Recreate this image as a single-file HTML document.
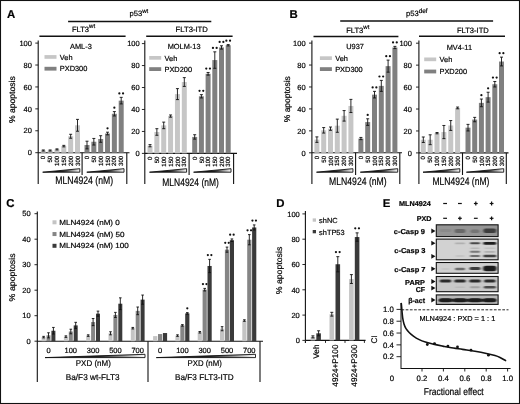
<!DOCTYPE html>
<html><head><meta charset="utf-8"><title>Figure</title>
<style>
html,body{margin:0;padding:0;background:#fff;}
body{width:520px;height:404px;overflow:hidden;}
svg{display:block;font-family:"Liberation Sans", sans-serif;filter:grayscale(1) blur(0.3px);}
text{stroke:#111;stroke-width:0.2px;paint-order:stroke;text-rendering:geometricPrecision;}
</style></head>
<body>
<svg width="520" height="404" viewBox="0 0 520 404">
<rect x="0" y="0" width="520" height="404" fill="#fff"/>
<rect x="0.5" y="0.5" width="519" height="403" fill="none" stroke="#111" stroke-width="1.1"/>
<text x="6.9" y="17.8" font-size="11.4" font-weight="bold">A</text>
<text x="289.5" y="18" font-size="11.4" font-weight="bold">B</text>
<text x="6.3" y="207.3" font-size="11.4" font-weight="bold">C</text>
<text x="276.3" y="207.1" font-size="11.4" font-weight="bold">D</text>
<text x="382.7" y="207.2" font-size="11.4" font-weight="bold">E</text>
<line x1="68.1" y1="21.5" x2="211.3" y2="21.5" stroke="#111" stroke-width="1.5"/>
<text x="129.5" y="16.3" font-size="7.6">p53<tspan font-size="6" dy="-3.6">wt</tspan></text>
<line x1="39.4" y1="36.3" x2="125.6" y2="36.3" stroke="#111" stroke-width="1.5"/>
<text x="71.9" y="32" font-size="7.6">FLT3<tspan font-size="6" dy="-3.6">wt</tspan></text>
<line x1="146.2" y1="36.3" x2="232.6" y2="36.3" stroke="#111" stroke-width="1.5"/>
<text x="175.5" y="32.3" font-size="7.6" textLength="32.4" lengthAdjust="spacingAndGlyphs">FLT3-ITD</text>
<line x1="38.2" y1="40.5" x2="38.2" y2="184" stroke="#111" stroke-width="1.1"/>
<line x1="35.3" y1="152.7" x2="38.2" y2="152.7" stroke="#111" stroke-width="0.9"/>
<text x="31.9" y="155.4" font-size="7.5" text-anchor="end">0</text>
<line x1="35.3" y1="130.78" x2="38.2" y2="130.78" stroke="#111" stroke-width="0.9"/>
<text x="31.9" y="133.48" font-size="7.5" text-anchor="end">20</text>
<line x1="35.3" y1="108.86" x2="38.2" y2="108.86" stroke="#111" stroke-width="0.9"/>
<text x="31.9" y="111.56" font-size="7.5" text-anchor="end">40</text>
<line x1="35.3" y1="86.94" x2="38.2" y2="86.94" stroke="#111" stroke-width="0.9"/>
<text x="31.9" y="89.64" font-size="7.5" text-anchor="end">60</text>
<line x1="35.3" y1="65.02" x2="38.2" y2="65.02" stroke="#111" stroke-width="0.9"/>
<text x="31.9" y="67.72" font-size="7.5" text-anchor="end">80</text>
<line x1="35.3" y1="43.1" x2="38.2" y2="43.1" stroke="#111" stroke-width="0.9"/>
<text x="31.9" y="45.8" font-size="7.5" text-anchor="end">100</text>
<line x1="38.2" y1="152.7" x2="129.5" y2="152.7" stroke="#111" stroke-width="1.1"/>
<line x1="126.8" y1="152.7" x2="126.8" y2="184" stroke="#111" stroke-width="1.1"/>
<line x1="82.1" y1="152.7" x2="82.1" y2="175" stroke="#111" stroke-width="1.1"/>
<rect x="40.8" y="150.51" width="5" height="2.19" fill="#c6c6c6" />
<line x1="43.3" y1="149.96" x2="43.3" y2="151.06" stroke="#111" stroke-width="0.9"/>
<line x1="41.8" y1="149.96" x2="44.8" y2="149.96" stroke="#111" stroke-width="0.9"/>
<line x1="41.8" y1="151.06" x2="44.8" y2="151.06" stroke="#111" stroke-width="0.9"/>
<rect x="47.64" y="150.51" width="5" height="2.19" fill="#c6c6c6" />
<line x1="50.14" y1="149.96" x2="50.14" y2="151.06" stroke="#111" stroke-width="0.9"/>
<line x1="48.64" y1="149.96" x2="51.64" y2="149.96" stroke="#111" stroke-width="0.9"/>
<line x1="48.64" y1="151.06" x2="51.64" y2="151.06" stroke="#111" stroke-width="0.9"/>
<rect x="54.48" y="149.41" width="5" height="3.29" fill="#c6c6c6" />
<line x1="56.98" y1="148.86" x2="56.98" y2="149.96" stroke="#111" stroke-width="0.9"/>
<line x1="55.48" y1="148.86" x2="58.48" y2="148.86" stroke="#111" stroke-width="0.9"/>
<line x1="55.48" y1="149.96" x2="58.48" y2="149.96" stroke="#111" stroke-width="0.9"/>
<rect x="61.32" y="146.12" width="5" height="6.58" fill="#c6c6c6" />
<line x1="63.82" y1="145.36" x2="63.82" y2="146.89" stroke="#111" stroke-width="0.9"/>
<line x1="62.32" y1="145.36" x2="65.32" y2="145.36" stroke="#111" stroke-width="0.9"/>
<line x1="62.32" y1="146.89" x2="65.32" y2="146.89" stroke="#111" stroke-width="0.9"/>
<rect x="68.16" y="136.26" width="5" height="16.44" fill="#c6c6c6" />
<line x1="70.66" y1="134.29" x2="70.66" y2="138.23" stroke="#111" stroke-width="0.9"/>
<line x1="69.16" y1="134.29" x2="72.16" y2="134.29" stroke="#111" stroke-width="0.9"/>
<line x1="69.16" y1="138.23" x2="72.16" y2="138.23" stroke="#111" stroke-width="0.9"/>
<rect x="75" y="125.3" width="5" height="27.4" fill="#c6c6c6" />
<line x1="77.5" y1="119.38" x2="77.5" y2="131.22" stroke="#111" stroke-width="0.9"/>
<line x1="76" y1="119.38" x2="79" y2="119.38" stroke="#111" stroke-width="0.9"/>
<line x1="76" y1="131.22" x2="79" y2="131.22" stroke="#111" stroke-width="0.9"/>
<rect x="84.5" y="145.03" width="5" height="7.67" fill="#808080" />
<line x1="87" y1="141.19" x2="87" y2="148.86" stroke="#111" stroke-width="0.9"/>
<line x1="85.5" y1="141.19" x2="88.5" y2="141.19" stroke="#111" stroke-width="0.9"/>
<line x1="85.5" y1="148.86" x2="88.5" y2="148.86" stroke="#111" stroke-width="0.9"/>
<rect x="91.34" y="141.74" width="5" height="10.96" fill="#808080" />
<line x1="93.84" y1="138.45" x2="93.84" y2="145.03" stroke="#111" stroke-width="0.9"/>
<line x1="92.34" y1="138.45" x2="95.34" y2="138.45" stroke="#111" stroke-width="0.9"/>
<line x1="92.34" y1="145.03" x2="95.34" y2="145.03" stroke="#111" stroke-width="0.9"/>
<rect x="98.18" y="139" width="5" height="13.7" fill="#808080" />
<line x1="100.68" y1="135.71" x2="100.68" y2="142.29" stroke="#111" stroke-width="0.9"/>
<line x1="99.18" y1="135.71" x2="102.18" y2="135.71" stroke="#111" stroke-width="0.9"/>
<line x1="99.18" y1="142.29" x2="102.18" y2="142.29" stroke="#111" stroke-width="0.9"/>
<rect x="105.02" y="133.52" width="5" height="19.18" fill="#808080" />
<line x1="107.52" y1="132.2" x2="107.52" y2="134.84" stroke="#111" stroke-width="0.9"/>
<line x1="106.02" y1="132.2" x2="109.02" y2="132.2" stroke="#111" stroke-width="0.9"/>
<line x1="106.02" y1="134.84" x2="109.02" y2="134.84" stroke="#111" stroke-width="0.9"/>
<circle cx="107.52" cy="128.3" r="1.12" fill="#111"/>
<rect x="111.86" y="113.79" width="5" height="38.91" fill="#808080" />
<line x1="114.36" y1="111.6" x2="114.36" y2="115.98" stroke="#111" stroke-width="0.9"/>
<line x1="112.86" y1="111.6" x2="115.86" y2="111.6" stroke="#111" stroke-width="0.9"/>
<line x1="112.86" y1="115.98" x2="115.86" y2="115.98" stroke="#111" stroke-width="0.9"/>
<circle cx="114.36" cy="107.7" r="1.12" fill="#111"/>
<rect x="118.7" y="100.64" width="5" height="52.06" fill="#808080" />
<line x1="121.2" y1="97.35" x2="121.2" y2="103.93" stroke="#111" stroke-width="0.9"/>
<line x1="119.7" y1="97.35" x2="122.7" y2="97.35" stroke="#111" stroke-width="0.9"/>
<line x1="119.7" y1="103.93" x2="122.7" y2="103.93" stroke="#111" stroke-width="0.9"/>
<circle cx="119.35" cy="93.45" r="1.12" fill="#111"/>
<circle cx="123.05" cy="93.45" r="1.12" fill="#111"/>
<text x="45.4" y="155.8" font-size="6.1" text-anchor="end" transform="rotate(-90 45.4 155.8)">0</text>
<text x="89.1" y="155.8" font-size="6.1" text-anchor="end" transform="rotate(-90 89.1 155.8)">0</text>
<text x="52.24" y="155.8" font-size="6.1" text-anchor="end" transform="rotate(-90 52.24 155.8)">50</text>
<text x="95.94" y="155.8" font-size="6.1" text-anchor="end" transform="rotate(-90 95.94 155.8)">50</text>
<text x="59.08" y="155.8" font-size="6.1" text-anchor="end" transform="rotate(-90 59.08 155.8)">100</text>
<text x="102.78" y="155.8" font-size="6.1" text-anchor="end" transform="rotate(-90 102.78 155.8)">100</text>
<text x="65.92" y="155.8" font-size="6.1" text-anchor="end" transform="rotate(-90 65.92 155.8)">150</text>
<text x="109.62" y="155.8" font-size="6.1" text-anchor="end" transform="rotate(-90 109.62 155.8)">150</text>
<text x="72.76" y="155.8" font-size="6.1" text-anchor="end" transform="rotate(-90 72.76 155.8)">200</text>
<text x="116.46" y="155.8" font-size="6.1" text-anchor="end" transform="rotate(-90 116.46 155.8)">200</text>
<text x="79.6" y="155.8" font-size="6.1" text-anchor="end" transform="rotate(-90 79.6 155.8)">300</text>
<text x="123.3" y="155.8" font-size="6.1" text-anchor="end" transform="rotate(-90 123.3 155.8)">300</text>
<linearGradient id="wg1" x1="0" x2="1" y1="0" y2="0"><stop offset="0" stop-color="#000"/><stop offset="0.55" stop-color="#222"/><stop offset="1" stop-color="#fff"/></linearGradient>
<path d="M42.7 172.2 L79.8 168.7 L79.8 172.2 Z" fill="url(#wg1)" stroke="#111" stroke-width="0.9" stroke-linejoin="miter"/>
<linearGradient id="wg2" x1="0" x2="1" y1="0" y2="0"><stop offset="0" stop-color="#000"/><stop offset="0.55" stop-color="#222"/><stop offset="1" stop-color="#fff"/></linearGradient>
<path d="M86.8 172.2 L124 168.7 L124 172.2 Z" fill="url(#wg2)" stroke="#111" stroke-width="0.9" stroke-linejoin="miter"/>
<text x="55.3" y="184.1" font-size="10.8" textLength="57.9" lengthAdjust="spacingAndGlyphs">MLN4924 (nM)</text>
<rect x="44.5" y="55.1" width="12" height="3.7" fill="#c6c6c6" />
<rect x="44.5" y="66.8" width="12" height="3.8" fill="#808080" />
<text x="59.8" y="59.6" font-size="7.4">Veh</text>
<text x="59.8" y="71.3" font-size="7.4">PXD300</text>
<text x="70" y="48.9" font-size="7.4">AML-3</text>
<line x1="144.8" y1="40.5" x2="144.8" y2="184" stroke="#111" stroke-width="1.1"/>
<line x1="141.9" y1="153.4" x2="144.8" y2="153.4" stroke="#111" stroke-width="0.9"/>
<text x="139.7" y="156.1" font-size="7.5" text-anchor="end">0</text>
<line x1="141.9" y1="131.44" x2="144.8" y2="131.44" stroke="#111" stroke-width="0.9"/>
<text x="139.7" y="134.14" font-size="7.5" text-anchor="end">20</text>
<line x1="141.9" y1="109.48" x2="144.8" y2="109.48" stroke="#111" stroke-width="0.9"/>
<text x="139.7" y="112.18" font-size="7.5" text-anchor="end">40</text>
<line x1="141.9" y1="87.52" x2="144.8" y2="87.52" stroke="#111" stroke-width="0.9"/>
<text x="139.7" y="90.22" font-size="7.5" text-anchor="end">60</text>
<line x1="141.9" y1="65.56" x2="144.8" y2="65.56" stroke="#111" stroke-width="0.9"/>
<text x="139.7" y="68.26" font-size="7.5" text-anchor="end">80</text>
<line x1="141.9" y1="43.6" x2="144.8" y2="43.6" stroke="#111" stroke-width="0.9"/>
<text x="139.7" y="46.3" font-size="7.5" text-anchor="end">100</text>
<line x1="144.8" y1="153.4" x2="237" y2="153.4" stroke="#111" stroke-width="1.1"/>
<line x1="233.6" y1="153.4" x2="233.6" y2="184" stroke="#111" stroke-width="1.1"/>
<line x1="189.1" y1="153.4" x2="189.1" y2="175" stroke="#111" stroke-width="1.1"/>
<rect x="147.5" y="145.71" width="5" height="7.69" fill="#c6c6c6" />
<line x1="150" y1="144.62" x2="150" y2="146.81" stroke="#111" stroke-width="0.9"/>
<line x1="148.5" y1="144.62" x2="151.5" y2="144.62" stroke="#111" stroke-width="0.9"/>
<line x1="148.5" y1="146.81" x2="151.5" y2="146.81" stroke="#111" stroke-width="0.9"/>
<rect x="154.36" y="131.99" width="5" height="21.41" fill="#c6c6c6" />
<line x1="156.86" y1="128.69" x2="156.86" y2="135.28" stroke="#111" stroke-width="0.9"/>
<line x1="155.36" y1="128.69" x2="158.36" y2="128.69" stroke="#111" stroke-width="0.9"/>
<line x1="155.36" y1="135.28" x2="158.36" y2="135.28" stroke="#111" stroke-width="0.9"/>
<rect x="161.22" y="125.4" width="5" height="28" fill="#c6c6c6" />
<line x1="163.72" y1="122.11" x2="163.72" y2="128.7" stroke="#111" stroke-width="0.9"/>
<line x1="162.22" y1="122.11" x2="165.22" y2="122.11" stroke="#111" stroke-width="0.9"/>
<line x1="162.22" y1="128.7" x2="165.22" y2="128.7" stroke="#111" stroke-width="0.9"/>
<rect x="168.08" y="116.07" width="5" height="37.33" fill="#c6c6c6" />
<line x1="170.58" y1="114.97" x2="170.58" y2="117.17" stroke="#111" stroke-width="0.9"/>
<line x1="169.08" y1="114.97" x2="172.08" y2="114.97" stroke="#111" stroke-width="0.9"/>
<line x1="169.08" y1="117.17" x2="172.08" y2="117.17" stroke="#111" stroke-width="0.9"/>
<rect x="174.94" y="94.11" width="5" height="59.29" fill="#c6c6c6" />
<line x1="177.44" y1="88.62" x2="177.44" y2="99.6" stroke="#111" stroke-width="0.9"/>
<line x1="175.94" y1="88.62" x2="178.94" y2="88.62" stroke="#111" stroke-width="0.9"/>
<line x1="175.94" y1="99.6" x2="178.94" y2="99.6" stroke="#111" stroke-width="0.9"/>
<rect x="181.8" y="82.03" width="5" height="71.37" fill="#c6c6c6" />
<line x1="184.3" y1="77.64" x2="184.3" y2="86.42" stroke="#111" stroke-width="0.9"/>
<line x1="182.8" y1="77.64" x2="185.8" y2="77.64" stroke="#111" stroke-width="0.9"/>
<line x1="182.8" y1="86.42" x2="185.8" y2="86.42" stroke="#111" stroke-width="0.9"/>
<rect x="192.2" y="136.93" width="5" height="16.47" fill="#808080" />
<line x1="194.7" y1="134.73" x2="194.7" y2="139.13" stroke="#111" stroke-width="0.9"/>
<line x1="193.2" y1="134.73" x2="196.2" y2="134.73" stroke="#111" stroke-width="0.9"/>
<line x1="193.2" y1="139.13" x2="196.2" y2="139.13" stroke="#111" stroke-width="0.9"/>
<rect x="198.9" y="96.3" width="5" height="57.1" fill="#808080" />
<line x1="201.4" y1="94.66" x2="201.4" y2="97.95" stroke="#111" stroke-width="0.9"/>
<line x1="199.9" y1="94.66" x2="202.9" y2="94.66" stroke="#111" stroke-width="0.9"/>
<line x1="199.9" y1="97.95" x2="202.9" y2="97.95" stroke="#111" stroke-width="0.9"/>
<circle cx="199.55" cy="90.76" r="1.12" fill="#111"/>
<circle cx="203.25" cy="90.76" r="1.12" fill="#111"/>
<rect x="205.6" y="73.8" width="5" height="79.61" fill="#808080" />
<line x1="208.1" y1="72.48" x2="208.1" y2="75.11" stroke="#111" stroke-width="0.9"/>
<line x1="206.6" y1="72.48" x2="209.6" y2="72.48" stroke="#111" stroke-width="0.9"/>
<line x1="206.6" y1="75.11" x2="209.6" y2="75.11" stroke="#111" stroke-width="0.9"/>
<circle cx="206.25" cy="68.58" r="1.12" fill="#111"/>
<circle cx="209.95" cy="68.58" r="1.12" fill="#111"/>
<rect x="212.3" y="60.07" width="5" height="93.33" fill="#808080" />
<line x1="214.8" y1="51.83" x2="214.8" y2="68.3" stroke="#111" stroke-width="0.9"/>
<line x1="213.3" y1="51.83" x2="216.3" y2="51.83" stroke="#111" stroke-width="0.9"/>
<line x1="213.3" y1="68.3" x2="216.3" y2="68.3" stroke="#111" stroke-width="0.9"/>
<circle cx="212.95" cy="47.93" r="1.12" fill="#111"/>
<circle cx="216.65" cy="47.93" r="1.12" fill="#111"/>
<rect x="219" y="47.44" width="5" height="105.96" fill="#808080" />
<line x1="221.5" y1="45.8" x2="221.5" y2="49.09" stroke="#111" stroke-width="0.9"/>
<line x1="220" y1="45.8" x2="223" y2="45.8" stroke="#111" stroke-width="0.9"/>
<line x1="220" y1="49.09" x2="223" y2="49.09" stroke="#111" stroke-width="0.9"/>
<circle cx="219.65" cy="41.9" r="1.12" fill="#111"/>
<circle cx="223.35" cy="41.9" r="1.12" fill="#111"/>
<rect x="225.7" y="45.25" width="5" height="108.15" fill="#808080" />
<line x1="228.2" y1="44.59" x2="228.2" y2="45.91" stroke="#111" stroke-width="0.9"/>
<line x1="226.7" y1="44.59" x2="229.7" y2="44.59" stroke="#111" stroke-width="0.9"/>
<line x1="226.7" y1="45.91" x2="229.7" y2="45.91" stroke="#111" stroke-width="0.9"/>
<circle cx="226.35" cy="40.69" r="1.12" fill="#111"/>
<circle cx="230.05" cy="40.69" r="1.12" fill="#111"/>
<text x="152.1" y="156.5" font-size="6.1" text-anchor="end" transform="rotate(-90 152.1 156.5)">0</text>
<text x="196.8" y="156.5" font-size="6.1" text-anchor="end" transform="rotate(-90 196.8 156.5)">0</text>
<text x="158.96" y="156.5" font-size="6.1" text-anchor="end" transform="rotate(-90 158.96 156.5)">50</text>
<text x="203.5" y="156.5" font-size="6.1" text-anchor="end" transform="rotate(-90 203.5 156.5)">50</text>
<text x="165.82" y="156.5" font-size="6.1" text-anchor="end" transform="rotate(-90 165.82 156.5)">100</text>
<text x="210.2" y="156.5" font-size="6.1" text-anchor="end" transform="rotate(-90 210.2 156.5)">100</text>
<text x="172.68" y="156.5" font-size="6.1" text-anchor="end" transform="rotate(-90 172.68 156.5)">150</text>
<text x="216.9" y="156.5" font-size="6.1" text-anchor="end" transform="rotate(-90 216.9 156.5)">150</text>
<text x="179.54" y="156.5" font-size="6.1" text-anchor="end" transform="rotate(-90 179.54 156.5)">200</text>
<text x="223.6" y="156.5" font-size="6.1" text-anchor="end" transform="rotate(-90 223.6 156.5)">200</text>
<text x="186.4" y="156.5" font-size="6.1" text-anchor="end" transform="rotate(-90 186.4 156.5)">300</text>
<text x="230.3" y="156.5" font-size="6.1" text-anchor="end" transform="rotate(-90 230.3 156.5)">300</text>
<linearGradient id="wg3" x1="0" x2="1" y1="0" y2="0"><stop offset="0" stop-color="#000"/><stop offset="0.55" stop-color="#222"/><stop offset="1" stop-color="#fff"/></linearGradient>
<path d="M149.5 172.2 L186.6 168.7 L186.6 172.2 Z" fill="url(#wg3)" stroke="#111" stroke-width="0.9" stroke-linejoin="miter"/>
<linearGradient id="wg4" x1="0" x2="1" y1="0" y2="0"><stop offset="0" stop-color="#000"/><stop offset="0.55" stop-color="#222"/><stop offset="1" stop-color="#fff"/></linearGradient>
<path d="M193.6 172.2 L231 168.7 L231 172.2 Z" fill="url(#wg4)" stroke="#111" stroke-width="0.9" stroke-linejoin="miter"/>
<text x="162.3" y="186.1" font-size="10.8" textLength="56.5" lengthAdjust="spacingAndGlyphs">MLN4924 (nM)</text>
<rect x="149.2" y="56" width="12" height="3.7" fill="#c6c6c6" />
<rect x="149.2" y="67.2" width="12" height="3.8" fill="#808080" />
<text x="164.5" y="60.5" font-size="7.4">Veh</text>
<text x="164.5" y="71.7" font-size="7.4">PXD200</text>
<text x="167.7" y="48.9" font-size="7.4">MOLM-13</text>
<line x1="340.2" y1="21" x2="493.1" y2="21" stroke="#111" stroke-width="1.5"/>
<text x="406" y="16.3" font-size="7.6">p53<tspan font-size="6.4" dy="-3.6">def</tspan></text>
<line x1="313.5" y1="36.6" x2="398.4" y2="36.6" stroke="#111" stroke-width="1.5"/>
<text x="346.2" y="32.5" font-size="7.6">FLT3<tspan font-size="6" dy="-3.6">wt</tspan></text>
<line x1="419" y1="36.3" x2="505" y2="36.3" stroke="#111" stroke-width="1.5"/>
<text x="456.9" y="32.7" font-size="7.6" textLength="31.9" lengthAdjust="spacingAndGlyphs">FLT3-ITD</text>
<line x1="311.9" y1="40.5" x2="311.9" y2="184" stroke="#111" stroke-width="1.1"/>
<line x1="309" y1="152.8" x2="311.9" y2="152.8" stroke="#111" stroke-width="0.9"/>
<text x="305.6" y="155.5" font-size="7.5" text-anchor="end">0</text>
<line x1="309" y1="130.86" x2="311.9" y2="130.86" stroke="#111" stroke-width="0.9"/>
<text x="305.6" y="133.56" font-size="7.5" text-anchor="end">20</text>
<line x1="309" y1="108.92" x2="311.9" y2="108.92" stroke="#111" stroke-width="0.9"/>
<text x="305.6" y="111.62" font-size="7.5" text-anchor="end">40</text>
<line x1="309" y1="86.98" x2="311.9" y2="86.98" stroke="#111" stroke-width="0.9"/>
<text x="305.6" y="89.68" font-size="7.5" text-anchor="end">60</text>
<line x1="309" y1="65.04" x2="311.9" y2="65.04" stroke="#111" stroke-width="0.9"/>
<text x="305.6" y="67.74" font-size="7.5" text-anchor="end">80</text>
<line x1="309" y1="43.1" x2="311.9" y2="43.1" stroke="#111" stroke-width="0.9"/>
<text x="305.6" y="45.8" font-size="7.5" text-anchor="end">100</text>
<line x1="311.9" y1="152.8" x2="402" y2="152.8" stroke="#111" stroke-width="1.1"/>
<line x1="399.8" y1="152.8" x2="399.8" y2="184" stroke="#111" stroke-width="1.1"/>
<line x1="355.6" y1="152.8" x2="355.6" y2="175" stroke="#111" stroke-width="1.1"/>
<rect x="314.4" y="139.64" width="5" height="13.16" fill="#c6c6c6" />
<line x1="316.9" y1="136.89" x2="316.9" y2="142.38" stroke="#111" stroke-width="0.9"/>
<line x1="315.4" y1="136.89" x2="318.4" y2="136.89" stroke="#111" stroke-width="0.9"/>
<line x1="315.4" y1="142.38" x2="318.4" y2="142.38" stroke="#111" stroke-width="0.9"/>
<rect x="321.2" y="130.31" width="5" height="22.49" fill="#c6c6c6" />
<line x1="323.7" y1="127.57" x2="323.7" y2="133.05" stroke="#111" stroke-width="0.9"/>
<line x1="322.2" y1="127.57" x2="325.2" y2="127.57" stroke="#111" stroke-width="0.9"/>
<line x1="322.2" y1="133.05" x2="325.2" y2="133.05" stroke="#111" stroke-width="0.9"/>
<rect x="328" y="128.67" width="5" height="24.13" fill="#c6c6c6" />
<line x1="330.5" y1="127.02" x2="330.5" y2="130.31" stroke="#111" stroke-width="0.9"/>
<line x1="329" y1="127.02" x2="332" y2="127.02" stroke="#111" stroke-width="0.9"/>
<line x1="329" y1="130.31" x2="332" y2="130.31" stroke="#111" stroke-width="0.9"/>
<rect x="334.8" y="125.7" width="5" height="27.1" fill="#c6c6c6" />
<line x1="337.3" y1="119.12" x2="337.3" y2="132.29" stroke="#111" stroke-width="0.9"/>
<line x1="335.8" y1="119.12" x2="338.8" y2="119.12" stroke="#111" stroke-width="0.9"/>
<line x1="335.8" y1="132.29" x2="338.8" y2="132.29" stroke="#111" stroke-width="0.9"/>
<rect x="341.6" y="115.83" width="5" height="36.97" fill="#c6c6c6" />
<line x1="344.1" y1="110.57" x2="344.1" y2="121.1" stroke="#111" stroke-width="0.9"/>
<line x1="342.6" y1="110.57" x2="345.6" y2="110.57" stroke="#111" stroke-width="0.9"/>
<line x1="342.6" y1="121.1" x2="345.6" y2="121.1" stroke="#111" stroke-width="0.9"/>
<rect x="348.4" y="105.96" width="5" height="46.84" fill="#c6c6c6" />
<line x1="350.9" y1="99.38" x2="350.9" y2="112.54" stroke="#111" stroke-width="0.9"/>
<line x1="349.4" y1="99.38" x2="352.4" y2="99.38" stroke="#111" stroke-width="0.9"/>
<line x1="349.4" y1="112.54" x2="352.4" y2="112.54" stroke="#111" stroke-width="0.9"/>
<rect x="358.4" y="138.54" width="5" height="14.26" fill="#808080" />
<line x1="360.9" y1="137.44" x2="360.9" y2="139.64" stroke="#111" stroke-width="0.9"/>
<line x1="359.4" y1="137.44" x2="362.4" y2="137.44" stroke="#111" stroke-width="0.9"/>
<line x1="359.4" y1="139.64" x2="362.4" y2="139.64" stroke="#111" stroke-width="0.9"/>
<rect x="365.2" y="122.08" width="5" height="30.72" fill="#808080" />
<line x1="367.7" y1="118.79" x2="367.7" y2="125.38" stroke="#111" stroke-width="0.9"/>
<line x1="366.2" y1="118.79" x2="369.2" y2="118.79" stroke="#111" stroke-width="0.9"/>
<line x1="366.2" y1="125.38" x2="369.2" y2="125.38" stroke="#111" stroke-width="0.9"/>
<circle cx="367.7" cy="114.89" r="1.12" fill="#111"/>
<rect x="372" y="94.66" width="5" height="58.14" fill="#808080" />
<line x1="374.5" y1="91.37" x2="374.5" y2="97.95" stroke="#111" stroke-width="0.9"/>
<line x1="373" y1="91.37" x2="376" y2="91.37" stroke="#111" stroke-width="0.9"/>
<line x1="373" y1="97.95" x2="376" y2="97.95" stroke="#111" stroke-width="0.9"/>
<circle cx="372.65" cy="87.47" r="1.12" fill="#111"/>
<circle cx="376.35" cy="87.47" r="1.12" fill="#111"/>
<rect x="378.8" y="85.88" width="5" height="66.92" fill="#808080" />
<line x1="381.3" y1="80.4" x2="381.3" y2="91.37" stroke="#111" stroke-width="0.9"/>
<line x1="379.8" y1="80.4" x2="382.8" y2="80.4" stroke="#111" stroke-width="0.9"/>
<line x1="379.8" y1="91.37" x2="382.8" y2="91.37" stroke="#111" stroke-width="0.9"/>
<circle cx="379.45" cy="76.5" r="1.12" fill="#111"/>
<circle cx="383.15" cy="76.5" r="1.12" fill="#111"/>
<rect x="385.6" y="66.14" width="5" height="86.66" fill="#808080" />
<line x1="388.1" y1="60.1" x2="388.1" y2="72.17" stroke="#111" stroke-width="0.9"/>
<line x1="386.6" y1="60.1" x2="389.6" y2="60.1" stroke="#111" stroke-width="0.9"/>
<line x1="386.6" y1="72.17" x2="389.6" y2="72.17" stroke="#111" stroke-width="0.9"/>
<circle cx="386.25" cy="56.2" r="1.12" fill="#111"/>
<circle cx="389.95" cy="56.2" r="1.12" fill="#111"/>
<rect x="392.4" y="47.49" width="5" height="105.31" fill="#808080" />
<line x1="394.9" y1="46.39" x2="394.9" y2="48.59" stroke="#111" stroke-width="0.9"/>
<line x1="393.4" y1="46.39" x2="396.4" y2="46.39" stroke="#111" stroke-width="0.9"/>
<line x1="393.4" y1="48.59" x2="396.4" y2="48.59" stroke="#111" stroke-width="0.9"/>
<circle cx="393.05" cy="42.49" r="1.12" fill="#111"/>
<circle cx="396.75" cy="42.49" r="1.12" fill="#111"/>
<text x="319" y="155.9" font-size="6.1" text-anchor="end" transform="rotate(-90 319 155.9)">0</text>
<text x="363" y="155.9" font-size="6.1" text-anchor="end" transform="rotate(-90 363 155.9)">0</text>
<text x="325.8" y="155.9" font-size="6.1" text-anchor="end" transform="rotate(-90 325.8 155.9)">50</text>
<text x="369.8" y="155.9" font-size="6.1" text-anchor="end" transform="rotate(-90 369.8 155.9)">50</text>
<text x="332.6" y="155.9" font-size="6.1" text-anchor="end" transform="rotate(-90 332.6 155.9)">100</text>
<text x="376.6" y="155.9" font-size="6.1" text-anchor="end" transform="rotate(-90 376.6 155.9)">100</text>
<text x="339.4" y="155.9" font-size="6.1" text-anchor="end" transform="rotate(-90 339.4 155.9)">150</text>
<text x="383.4" y="155.9" font-size="6.1" text-anchor="end" transform="rotate(-90 383.4 155.9)">150</text>
<text x="346.2" y="155.9" font-size="6.1" text-anchor="end" transform="rotate(-90 346.2 155.9)">200</text>
<text x="390.2" y="155.9" font-size="6.1" text-anchor="end" transform="rotate(-90 390.2 155.9)">200</text>
<text x="353" y="155.9" font-size="6.1" text-anchor="end" transform="rotate(-90 353 155.9)">300</text>
<text x="397" y="155.9" font-size="6.1" text-anchor="end" transform="rotate(-90 397 155.9)">300</text>
<linearGradient id="wg5" x1="0" x2="1" y1="0" y2="0"><stop offset="0" stop-color="#000"/><stop offset="0.55" stop-color="#222"/><stop offset="1" stop-color="#fff"/></linearGradient>
<path d="M316.5 172.2 L352.9 168.7 L352.9 172.2 Z" fill="url(#wg5)" stroke="#111" stroke-width="0.9" stroke-linejoin="miter"/>
<linearGradient id="wg6" x1="0" x2="1" y1="0" y2="0"><stop offset="0" stop-color="#000"/><stop offset="0.55" stop-color="#222"/><stop offset="1" stop-color="#fff"/></linearGradient>
<path d="M360.3 172.2 L397.7 168.7 L397.7 172.2 Z" fill="url(#wg6)" stroke="#111" stroke-width="0.9" stroke-linejoin="miter"/>
<text x="329" y="185.3" font-size="10.8" textLength="57.7" lengthAdjust="spacingAndGlyphs">MLN4924 (nM)</text>
<rect x="319.9" y="56.3" width="12" height="3.7" fill="#c6c6c6" />
<rect x="319.9" y="67.2" width="12" height="3.8" fill="#808080" />
<text x="335.2" y="60.8" font-size="7.4">Veh</text>
<text x="335.2" y="71.7" font-size="7.4">PXD300</text>
<text x="346.2" y="48.8" font-size="7.4">U937</text>
<line x1="418.9" y1="40.5" x2="418.9" y2="184" stroke="#111" stroke-width="1.1"/>
<line x1="416" y1="152.9" x2="418.9" y2="152.9" stroke="#111" stroke-width="0.9"/>
<text x="411.9" y="155.6" font-size="7.5" text-anchor="end">0</text>
<line x1="416" y1="130.96" x2="418.9" y2="130.96" stroke="#111" stroke-width="0.9"/>
<text x="411.9" y="133.66" font-size="7.5" text-anchor="end">20</text>
<line x1="416" y1="109.02" x2="418.9" y2="109.02" stroke="#111" stroke-width="0.9"/>
<text x="411.9" y="111.72" font-size="7.5" text-anchor="end">40</text>
<line x1="416" y1="87.08" x2="418.9" y2="87.08" stroke="#111" stroke-width="0.9"/>
<text x="411.9" y="89.78" font-size="7.5" text-anchor="end">60</text>
<line x1="416" y1="65.14" x2="418.9" y2="65.14" stroke="#111" stroke-width="0.9"/>
<text x="411.9" y="67.84" font-size="7.5" text-anchor="end">80</text>
<line x1="416" y1="43.2" x2="418.9" y2="43.2" stroke="#111" stroke-width="0.9"/>
<text x="411.9" y="45.9" font-size="7.5" text-anchor="end">100</text>
<line x1="418.9" y1="152.9" x2="508.5" y2="152.9" stroke="#111" stroke-width="1.1"/>
<line x1="506.3" y1="152.9" x2="506.3" y2="184" stroke="#111" stroke-width="1.1"/>
<line x1="462.5" y1="152.9" x2="462.5" y2="175" stroke="#111" stroke-width="1.1"/>
<rect x="420.8" y="139.74" width="5" height="13.16" fill="#c6c6c6" />
<line x1="423.3" y1="136.99" x2="423.3" y2="142.48" stroke="#111" stroke-width="0.9"/>
<line x1="421.8" y1="136.99" x2="424.8" y2="136.99" stroke="#111" stroke-width="0.9"/>
<line x1="421.8" y1="142.48" x2="424.8" y2="142.48" stroke="#111" stroke-width="0.9"/>
<rect x="427.66" y="139.74" width="5" height="13.16" fill="#c6c6c6" />
<line x1="430.16" y1="134.8" x2="430.16" y2="144.67" stroke="#111" stroke-width="0.9"/>
<line x1="428.66" y1="134.8" x2="431.66" y2="134.8" stroke="#111" stroke-width="0.9"/>
<line x1="428.66" y1="144.67" x2="431.66" y2="144.67" stroke="#111" stroke-width="0.9"/>
<rect x="434.52" y="133.15" width="5" height="19.75" fill="#c6c6c6" />
<line x1="437.02" y1="132.5" x2="437.02" y2="133.81" stroke="#111" stroke-width="0.9"/>
<line x1="435.52" y1="132.5" x2="438.52" y2="132.5" stroke="#111" stroke-width="0.9"/>
<line x1="435.52" y1="133.81" x2="438.52" y2="133.81" stroke="#111" stroke-width="0.9"/>
<rect x="441.38" y="132.06" width="5" height="20.84" fill="#c6c6c6" />
<line x1="443.88" y1="125.48" x2="443.88" y2="138.64" stroke="#111" stroke-width="0.9"/>
<line x1="442.38" y1="125.48" x2="445.38" y2="125.48" stroke="#111" stroke-width="0.9"/>
<line x1="442.38" y1="138.64" x2="445.38" y2="138.64" stroke="#111" stroke-width="0.9"/>
<rect x="448.24" y="125.48" width="5" height="27.42" fill="#c6c6c6" />
<line x1="450.74" y1="120.54" x2="450.74" y2="130.41" stroke="#111" stroke-width="0.9"/>
<line x1="449.24" y1="120.54" x2="452.24" y2="120.54" stroke="#111" stroke-width="0.9"/>
<line x1="449.24" y1="130.41" x2="452.24" y2="130.41" stroke="#111" stroke-width="0.9"/>
<rect x="455.1" y="107.92" width="5" height="44.98" fill="#c6c6c6" />
<line x1="457.6" y1="107.05" x2="457.6" y2="108.8" stroke="#111" stroke-width="0.9"/>
<line x1="456.1" y1="107.05" x2="459.1" y2="107.05" stroke="#111" stroke-width="0.9"/>
<line x1="456.1" y1="108.8" x2="459.1" y2="108.8" stroke="#111" stroke-width="0.9"/>
<rect x="465.5" y="127.67" width="5" height="25.23" fill="#808080" />
<line x1="468" y1="124.38" x2="468" y2="130.96" stroke="#111" stroke-width="0.9"/>
<line x1="466.5" y1="124.38" x2="469.5" y2="124.38" stroke="#111" stroke-width="0.9"/>
<line x1="466.5" y1="130.96" x2="469.5" y2="130.96" stroke="#111" stroke-width="0.9"/>
<rect x="472.2" y="119.55" width="5" height="33.35" fill="#808080" />
<line x1="474.7" y1="117.36" x2="474.7" y2="121.75" stroke="#111" stroke-width="0.9"/>
<line x1="473.2" y1="117.36" x2="476.2" y2="117.36" stroke="#111" stroke-width="0.9"/>
<line x1="473.2" y1="121.75" x2="476.2" y2="121.75" stroke="#111" stroke-width="0.9"/>
<rect x="478.9" y="102.88" width="5" height="50.02" fill="#808080" />
<line x1="481.4" y1="99.04" x2="481.4" y2="106.72" stroke="#111" stroke-width="0.9"/>
<line x1="479.9" y1="99.04" x2="482.9" y2="99.04" stroke="#111" stroke-width="0.9"/>
<line x1="479.9" y1="106.72" x2="482.9" y2="106.72" stroke="#111" stroke-width="0.9"/>
<circle cx="481.4" cy="95.14" r="1.12" fill="#111"/>
<rect x="485.6" y="97.17" width="5" height="55.73" fill="#808080" />
<line x1="488.1" y1="92.24" x2="488.1" y2="102.11" stroke="#111" stroke-width="0.9"/>
<line x1="486.6" y1="92.24" x2="489.6" y2="92.24" stroke="#111" stroke-width="0.9"/>
<line x1="486.6" y1="102.11" x2="489.6" y2="102.11" stroke="#111" stroke-width="0.9"/>
<circle cx="488.1" cy="88.34" r="1.12" fill="#111"/>
<rect x="492.3" y="84.23" width="5" height="68.67" fill="#808080" />
<line x1="494.8" y1="81.49" x2="494.8" y2="86.97" stroke="#111" stroke-width="0.9"/>
<line x1="493.3" y1="81.49" x2="496.3" y2="81.49" stroke="#111" stroke-width="0.9"/>
<line x1="493.3" y1="86.97" x2="496.3" y2="86.97" stroke="#111" stroke-width="0.9"/>
<circle cx="492.95" cy="77.59" r="1.12" fill="#111"/>
<circle cx="496.65" cy="77.59" r="1.12" fill="#111"/>
<rect x="499" y="61.52" width="5" height="91.38" fill="#808080" />
<line x1="501.5" y1="57.13" x2="501.5" y2="65.91" stroke="#111" stroke-width="0.9"/>
<line x1="500" y1="57.13" x2="503" y2="57.13" stroke="#111" stroke-width="0.9"/>
<line x1="500" y1="65.91" x2="503" y2="65.91" stroke="#111" stroke-width="0.9"/>
<circle cx="499.65" cy="53.23" r="1.12" fill="#111"/>
<circle cx="503.35" cy="53.23" r="1.12" fill="#111"/>
<text x="425.4" y="156" font-size="6.1" text-anchor="end" transform="rotate(-90 425.4 156)">0</text>
<text x="470.1" y="156" font-size="6.1" text-anchor="end" transform="rotate(-90 470.1 156)">0</text>
<text x="432.26" y="156" font-size="6.1" text-anchor="end" transform="rotate(-90 432.26 156)">50</text>
<text x="476.8" y="156" font-size="6.1" text-anchor="end" transform="rotate(-90 476.8 156)">50</text>
<text x="439.12" y="156" font-size="6.1" text-anchor="end" transform="rotate(-90 439.12 156)">100</text>
<text x="483.5" y="156" font-size="6.1" text-anchor="end" transform="rotate(-90 483.5 156)">100</text>
<text x="445.98" y="156" font-size="6.1" text-anchor="end" transform="rotate(-90 445.98 156)">150</text>
<text x="490.2" y="156" font-size="6.1" text-anchor="end" transform="rotate(-90 490.2 156)">150</text>
<text x="452.84" y="156" font-size="6.1" text-anchor="end" transform="rotate(-90 452.84 156)">200</text>
<text x="496.9" y="156" font-size="6.1" text-anchor="end" transform="rotate(-90 496.9 156)">200</text>
<text x="459.7" y="156" font-size="6.1" text-anchor="end" transform="rotate(-90 459.7 156)">300</text>
<text x="503.6" y="156" font-size="6.1" text-anchor="end" transform="rotate(-90 503.6 156)">300</text>
<linearGradient id="wg7" x1="0" x2="1" y1="0" y2="0"><stop offset="0" stop-color="#000"/><stop offset="0.55" stop-color="#222"/><stop offset="1" stop-color="#fff"/></linearGradient>
<path d="M423 172.2 L459.8 168.7 L459.8 172.2 Z" fill="url(#wg7)" stroke="#111" stroke-width="0.9" stroke-linejoin="miter"/>
<linearGradient id="wg8" x1="0" x2="1" y1="0" y2="0"><stop offset="0" stop-color="#000"/><stop offset="0.55" stop-color="#222"/><stop offset="1" stop-color="#fff"/></linearGradient>
<path d="M466.4 172.2 L503.7 168.7 L503.7 172.2 Z" fill="url(#wg8)" stroke="#111" stroke-width="0.9" stroke-linejoin="miter"/>
<text x="432.4" y="185.3" font-size="10.8" textLength="57" lengthAdjust="spacingAndGlyphs">MLN4924 (nM)</text>
<rect x="424.2" y="57.5" width="12" height="3.7" fill="#c6c6c6" />
<rect x="424.2" y="69.6" width="12" height="3.8" fill="#808080" />
<text x="439.5" y="62" font-size="7.4">Veh</text>
<text x="439.5" y="74.1" font-size="7.4">PXD200</text>
<text x="446.7" y="49.5" font-size="7.4">MV4-11</text>
<text x="15.3" y="99.6" font-size="8.5" text-anchor="middle" textLength="46.7" lengthAdjust="spacingAndGlyphs" transform="rotate(-90 15.3 99.6)">% apoptosis</text>
<text x="290.4" y="99.2" font-size="8.5" text-anchor="middle" textLength="46" lengthAdjust="spacingAndGlyphs" transform="rotate(-90 290.4 99.2)">% apoptosis</text>
<line x1="37.3" y1="211.5" x2="37.3" y2="382" stroke="#111" stroke-width="1.1"/>
<line x1="34.5" y1="341.2" x2="37.3" y2="341.2" stroke="#111" stroke-width="0.9"/>
<text x="30.6" y="343.9" font-size="7.5" text-anchor="end">0</text>
<line x1="34.5" y1="315.7" x2="37.3" y2="315.7" stroke="#111" stroke-width="0.9"/>
<text x="30.6" y="318.4" font-size="7.5" text-anchor="end">10</text>
<line x1="34.5" y1="290.2" x2="37.3" y2="290.2" stroke="#111" stroke-width="0.9"/>
<text x="30.6" y="292.9" font-size="7.5" text-anchor="end">20</text>
<line x1="34.5" y1="264.7" x2="37.3" y2="264.7" stroke="#111" stroke-width="0.9"/>
<text x="30.6" y="267.4" font-size="7.5" text-anchor="end">30</text>
<line x1="34.5" y1="239.2" x2="37.3" y2="239.2" stroke="#111" stroke-width="0.9"/>
<text x="30.6" y="241.9" font-size="7.5" text-anchor="end">40</text>
<line x1="34.5" y1="213.7" x2="37.3" y2="213.7" stroke="#111" stroke-width="0.9"/>
<text x="30.6" y="216.4" font-size="7.5" text-anchor="end">50</text>
<line x1="37.3" y1="341.2" x2="263" y2="341.2" stroke="#111" stroke-width="1.1"/>
<line x1="148" y1="341.2" x2="148" y2="382" stroke="#111" stroke-width="1.1"/>
<line x1="260" y1="341.2" x2="260" y2="382" stroke="#111" stroke-width="1.1"/>
<rect x="41.6" y="337.12" width="4" height="4.08" fill="#c4c4c4" />
<line x1="43.6" y1="336.36" x2="43.6" y2="337.88" stroke="#111" stroke-width="0.9"/>
<line x1="42.3" y1="336.36" x2="44.9" y2="336.36" stroke="#111" stroke-width="0.9"/>
<line x1="42.3" y1="337.88" x2="44.9" y2="337.88" stroke="#111" stroke-width="0.9"/>
<rect x="46.5" y="335.33" width="4" height="5.87" fill="#858585" />
<line x1="48.5" y1="332.78" x2="48.5" y2="337.88" stroke="#111" stroke-width="0.9"/>
<line x1="47.2" y1="332.78" x2="49.8" y2="332.78" stroke="#111" stroke-width="0.9"/>
<line x1="47.2" y1="337.88" x2="49.8" y2="337.88" stroke="#111" stroke-width="0.9"/>
<rect x="51.4" y="330.75" width="4" height="10.45" fill="#3a3a3a" />
<line x1="53.4" y1="327.43" x2="53.4" y2="334.06" stroke="#111" stroke-width="0.9"/>
<line x1="52.1" y1="327.43" x2="54.7" y2="327.43" stroke="#111" stroke-width="0.9"/>
<line x1="52.1" y1="334.06" x2="54.7" y2="334.06" stroke="#111" stroke-width="0.9"/>
<text x="48.5" y="352.6" font-size="7.5" text-anchor="middle">0</text>
<rect x="63.9" y="336.61" width="4" height="4.59" fill="#c4c4c4" />
<line x1="65.9" y1="335.85" x2="65.9" y2="337.38" stroke="#111" stroke-width="0.9"/>
<line x1="64.6" y1="335.85" x2="67.2" y2="335.85" stroke="#111" stroke-width="0.9"/>
<line x1="64.6" y1="337.38" x2="67.2" y2="337.38" stroke="#111" stroke-width="0.9"/>
<rect x="68.8" y="331.51" width="4" height="9.69" fill="#858585" />
<line x1="70.8" y1="329.21" x2="70.8" y2="333.81" stroke="#111" stroke-width="0.9"/>
<line x1="69.5" y1="329.21" x2="72.1" y2="329.21" stroke="#111" stroke-width="0.9"/>
<line x1="69.5" y1="333.81" x2="72.1" y2="333.81" stroke="#111" stroke-width="0.9"/>
<rect x="73.7" y="325.39" width="4" height="15.81" fill="#3a3a3a" />
<line x1="75.7" y1="322.33" x2="75.7" y2="328.45" stroke="#111" stroke-width="0.9"/>
<line x1="74.4" y1="322.33" x2="77" y2="322.33" stroke="#111" stroke-width="0.9"/>
<line x1="74.4" y1="328.45" x2="77" y2="328.45" stroke="#111" stroke-width="0.9"/>
<text x="70.8" y="352.6" font-size="7.5" text-anchor="middle">100</text>
<rect x="86.2" y="335.59" width="4" height="5.61" fill="#c4c4c4" />
<line x1="88.2" y1="334.82" x2="88.2" y2="336.35" stroke="#111" stroke-width="0.9"/>
<line x1="86.9" y1="334.82" x2="89.5" y2="334.82" stroke="#111" stroke-width="0.9"/>
<line x1="86.9" y1="336.35" x2="89.5" y2="336.35" stroke="#111" stroke-width="0.9"/>
<rect x="91.1" y="322.07" width="4" height="19.12" fill="#858585" />
<line x1="93.1" y1="318.5" x2="93.1" y2="325.64" stroke="#111" stroke-width="0.9"/>
<line x1="91.8" y1="318.5" x2="94.4" y2="318.5" stroke="#111" stroke-width="0.9"/>
<line x1="91.8" y1="325.64" x2="94.4" y2="325.64" stroke="#111" stroke-width="0.9"/>
<rect x="96" y="313.66" width="4" height="27.54" fill="#3a3a3a" />
<line x1="98" y1="311.11" x2="98" y2="316.21" stroke="#111" stroke-width="0.9"/>
<line x1="96.7" y1="311.11" x2="99.3" y2="311.11" stroke="#111" stroke-width="0.9"/>
<line x1="96.7" y1="316.21" x2="99.3" y2="316.21" stroke="#111" stroke-width="0.9"/>
<text x="93.1" y="352.6" font-size="7.5" text-anchor="middle">300</text>
<rect x="108.5" y="333.3" width="4" height="7.9" fill="#c4c4c4" />
<line x1="110.5" y1="331.77" x2="110.5" y2="334.82" stroke="#111" stroke-width="0.9"/>
<line x1="109.2" y1="331.77" x2="111.8" y2="331.77" stroke="#111" stroke-width="0.9"/>
<line x1="109.2" y1="334.82" x2="111.8" y2="334.82" stroke="#111" stroke-width="0.9"/>
<rect x="113.4" y="314.94" width="4" height="26.26" fill="#858585" />
<line x1="115.4" y1="312.38" x2="115.4" y2="317.49" stroke="#111" stroke-width="0.9"/>
<line x1="114.1" y1="312.38" x2="116.7" y2="312.38" stroke="#111" stroke-width="0.9"/>
<line x1="114.1" y1="317.49" x2="116.7" y2="317.49" stroke="#111" stroke-width="0.9"/>
<rect x="118.3" y="303.71" width="4" height="37.49" fill="#3a3a3a" />
<line x1="120.3" y1="297.85" x2="120.3" y2="309.58" stroke="#111" stroke-width="0.9"/>
<line x1="119" y1="297.85" x2="121.6" y2="297.85" stroke="#111" stroke-width="0.9"/>
<line x1="119" y1="309.58" x2="121.6" y2="309.58" stroke="#111" stroke-width="0.9"/>
<text x="115.4" y="352.6" font-size="7.5" text-anchor="middle">500</text>
<rect x="130.8" y="328.19" width="4" height="13" fill="#c4c4c4" />
<line x1="132.8" y1="327.43" x2="132.8" y2="328.96" stroke="#111" stroke-width="0.9"/>
<line x1="131.5" y1="327.43" x2="134.1" y2="327.43" stroke="#111" stroke-width="0.9"/>
<line x1="131.5" y1="328.96" x2="134.1" y2="328.96" stroke="#111" stroke-width="0.9"/>
<rect x="135.7" y="310.86" width="4" height="30.34" fill="#858585" />
<line x1="137.7" y1="307.03" x2="137.7" y2="314.68" stroke="#111" stroke-width="0.9"/>
<line x1="136.4" y1="307.03" x2="139" y2="307.03" stroke="#111" stroke-width="0.9"/>
<line x1="136.4" y1="314.68" x2="139" y2="314.68" stroke="#111" stroke-width="0.9"/>
<rect x="140.6" y="299.63" width="4" height="41.56" fill="#3a3a3a" />
<line x1="142.6" y1="295.05" x2="142.6" y2="304.22" stroke="#111" stroke-width="0.9"/>
<line x1="141.3" y1="295.05" x2="143.9" y2="295.05" stroke="#111" stroke-width="0.9"/>
<line x1="141.3" y1="304.22" x2="143.9" y2="304.22" stroke="#111" stroke-width="0.9"/>
<text x="137.7" y="352.6" font-size="7.5" text-anchor="middle">700</text>
<rect x="153.1" y="336.1" width="4.2" height="5.1" fill="#c4c4c4" />
<rect x="158" y="334.06" width="4.2" height="7.14" fill="#858585" />
<rect x="162.9" y="333.04" width="4.2" height="8.16" fill="#3a3a3a" />
<text x="160.1" y="352.6" font-size="7.5" text-anchor="middle">0</text>
<rect x="175.4" y="335.59" width="4.2" height="5.61" fill="#c4c4c4" />
<line x1="177.5" y1="334.82" x2="177.5" y2="336.35" stroke="#111" stroke-width="0.9"/>
<line x1="176.2" y1="334.82" x2="178.8" y2="334.82" stroke="#111" stroke-width="0.9"/>
<line x1="176.2" y1="336.35" x2="178.8" y2="336.35" stroke="#111" stroke-width="0.9"/>
<rect x="180.3" y="325.39" width="4.2" height="15.81" fill="#858585" />
<line x1="182.4" y1="324.62" x2="182.4" y2="326.15" stroke="#111" stroke-width="0.9"/>
<line x1="181.1" y1="324.62" x2="183.7" y2="324.62" stroke="#111" stroke-width="0.9"/>
<line x1="181.1" y1="326.15" x2="183.7" y2="326.15" stroke="#111" stroke-width="0.9"/>
<rect x="185.2" y="313.4" width="4.2" height="27.8" fill="#3a3a3a" />
<line x1="187.3" y1="312.64" x2="187.3" y2="314.17" stroke="#111" stroke-width="0.9"/>
<line x1="186" y1="312.64" x2="188.6" y2="312.64" stroke="#111" stroke-width="0.9"/>
<line x1="186" y1="314.17" x2="188.6" y2="314.17" stroke="#111" stroke-width="0.9"/>
<circle cx="187.3" cy="308.34" r="1.12" fill="#111"/>
<text x="182.4" y="352.6" font-size="7.5" text-anchor="middle">100</text>
<rect x="197.7" y="332.27" width="4.2" height="8.93" fill="#c4c4c4" />
<line x1="199.8" y1="331.51" x2="199.8" y2="333.04" stroke="#111" stroke-width="0.9"/>
<line x1="198.5" y1="331.51" x2="201.1" y2="331.51" stroke="#111" stroke-width="0.9"/>
<line x1="198.5" y1="333.04" x2="201.1" y2="333.04" stroke="#111" stroke-width="0.9"/>
<rect x="202.6" y="289.69" width="4.2" height="51.51" fill="#858585" />
<line x1="204.7" y1="288.42" x2="204.7" y2="290.96" stroke="#111" stroke-width="0.9"/>
<line x1="203.4" y1="288.42" x2="206" y2="288.42" stroke="#111" stroke-width="0.9"/>
<line x1="203.4" y1="290.96" x2="206" y2="290.96" stroke="#111" stroke-width="0.9"/>
<circle cx="202.95" cy="284.11" r="1.12" fill="#111"/>
<circle cx="206.45" cy="284.11" r="1.12" fill="#111"/>
<rect x="207.5" y="265.98" width="4.2" height="75.22" fill="#3a3a3a" />
<line x1="209.6" y1="259.35" x2="209.6" y2="272.61" stroke="#111" stroke-width="0.9"/>
<line x1="208.3" y1="259.35" x2="210.9" y2="259.35" stroke="#111" stroke-width="0.9"/>
<line x1="208.3" y1="272.61" x2="210.9" y2="272.61" stroke="#111" stroke-width="0.9"/>
<circle cx="207.85" cy="255.04" r="1.12" fill="#111"/>
<circle cx="211.35" cy="255.04" r="1.12" fill="#111"/>
<text x="204.7" y="352.6" font-size="7.5" text-anchor="middle">300</text>
<rect x="220" y="328.7" width="4.2" height="12.5" fill="#c4c4c4" />
<line x1="222.1" y1="326.66" x2="222.1" y2="330.75" stroke="#111" stroke-width="0.9"/>
<line x1="220.8" y1="326.66" x2="223.4" y2="326.66" stroke="#111" stroke-width="0.9"/>
<line x1="220.8" y1="330.75" x2="223.4" y2="330.75" stroke="#111" stroke-width="0.9"/>
<rect x="224.9" y="249.66" width="4.2" height="91.54" fill="#858585" />
<line x1="227" y1="247.1" x2="227" y2="252.21" stroke="#111" stroke-width="0.9"/>
<line x1="225.7" y1="247.1" x2="228.3" y2="247.1" stroke="#111" stroke-width="0.9"/>
<line x1="225.7" y1="252.21" x2="228.3" y2="252.21" stroke="#111" stroke-width="0.9"/>
<circle cx="225.25" cy="242.81" r="1.12" fill="#111"/>
<circle cx="228.75" cy="242.81" r="1.12" fill="#111"/>
<rect x="229.8" y="240.22" width="4.2" height="100.98" fill="#3a3a3a" />
<line x1="231.9" y1="238.94" x2="231.9" y2="241.5" stroke="#111" stroke-width="0.9"/>
<line x1="230.6" y1="238.94" x2="233.2" y2="238.94" stroke="#111" stroke-width="0.9"/>
<line x1="230.6" y1="241.5" x2="233.2" y2="241.5" stroke="#111" stroke-width="0.9"/>
<circle cx="230.15" cy="234.64" r="1.12" fill="#111"/>
<circle cx="233.65" cy="234.64" r="1.12" fill="#111"/>
<text x="227" y="352.6" font-size="7.5" text-anchor="middle">500</text>
<rect x="242.3" y="320.55" width="4.2" height="20.65" fill="#c4c4c4" />
<line x1="244.4" y1="319.78" x2="244.4" y2="321.31" stroke="#111" stroke-width="0.9"/>
<line x1="243.1" y1="319.78" x2="245.7" y2="319.78" stroke="#111" stroke-width="0.9"/>
<line x1="243.1" y1="321.31" x2="245.7" y2="321.31" stroke="#111" stroke-width="0.9"/>
<rect x="247.2" y="239.71" width="4.2" height="101.49" fill="#858585" />
<line x1="249.3" y1="234.61" x2="249.3" y2="244.81" stroke="#111" stroke-width="0.9"/>
<line x1="248" y1="234.61" x2="250.6" y2="234.61" stroke="#111" stroke-width="0.9"/>
<line x1="248" y1="244.81" x2="250.6" y2="244.81" stroke="#111" stroke-width="0.9"/>
<circle cx="247.55" cy="230.31" r="1.12" fill="#111"/>
<circle cx="251.05" cy="230.31" r="1.12" fill="#111"/>
<rect x="252.1" y="227.47" width="4.2" height="113.73" fill="#3a3a3a" />
<line x1="254.2" y1="224.92" x2="254.2" y2="230.02" stroke="#111" stroke-width="0.9"/>
<line x1="252.9" y1="224.92" x2="255.5" y2="224.92" stroke="#111" stroke-width="0.9"/>
<line x1="252.9" y1="230.02" x2="255.5" y2="230.02" stroke="#111" stroke-width="0.9"/>
<circle cx="252.45" cy="220.62" r="1.12" fill="#111"/>
<circle cx="255.95" cy="220.62" r="1.12" fill="#111"/>
<text x="249.3" y="352.6" font-size="7.5" text-anchor="middle">700</text>
<linearGradient id="wg9" x1="0" x2="1" y1="0" y2="0"><stop offset="0" stop-color="#000"/><stop offset="0.55" stop-color="#222"/><stop offset="1" stop-color="#fff"/></linearGradient>
<path d="M45 357.6 L145 354.3 L145 357.6 Z" fill="url(#wg9)" stroke="#111" stroke-width="0.9" stroke-linejoin="miter"/>
<linearGradient id="wg10" x1="0" x2="1" y1="0" y2="0"><stop offset="0" stop-color="#000"/><stop offset="0.55" stop-color="#222"/><stop offset="1" stop-color="#fff"/></linearGradient>
<path d="M156.3 357.6 L255.5 354.3 L255.5 357.6 Z" fill="url(#wg10)" stroke="#111" stroke-width="0.9" stroke-linejoin="miter"/>
<text x="75.8" y="366.2" font-size="8.4" textLength="35" lengthAdjust="spacingAndGlyphs">PXD (nM)</text>
<text x="187.5" y="366.2" font-size="8.4" textLength="34.3" lengthAdjust="spacingAndGlyphs">PXD (nM)</text>
<text x="65.8" y="380.2" font-size="8.4" textLength="53.7" lengthAdjust="spacingAndGlyphs">Ba/F3 wt-FLT3</text>
<text x="175" y="380.2" font-size="8.4" textLength="58.7" lengthAdjust="spacingAndGlyphs">Ba/F3 FLT3-ITD</text>
<rect x="52.5" y="220.3" width="4" height="4" fill="#c4c4c4" />
<text x="59.2" y="224.9" font-size="7.4" textLength="60.6" lengthAdjust="spacingAndGlyphs">MLN4924 (nM) 0</text>
<rect x="52.5" y="232.05" width="4" height="4" fill="#858585" />
<text x="59.2" y="236.65" font-size="7.4" textLength="65.4" lengthAdjust="spacingAndGlyphs">MLN4924 (nM) 50</text>
<rect x="52.5" y="243.8" width="4" height="4" fill="#3a3a3a" />
<text x="59.2" y="248.4" font-size="7.4" textLength="69.6" lengthAdjust="spacingAndGlyphs">MLN4924 (nM) 100</text>
<text x="14.9" y="277.4" font-size="8.5" text-anchor="middle" textLength="48" lengthAdjust="spacingAndGlyphs" transform="rotate(-90 14.9 277.4)">% apoptosis</text>
<line x1="305.4" y1="211" x2="305.4" y2="340.4" stroke="#111" stroke-width="1.1"/>
<line x1="302.4" y1="340.4" x2="305.4" y2="340.4" stroke="#111" stroke-width="0.9"/>
<text x="299.8" y="343.1" font-size="7.5" text-anchor="end">0</text>
<line x1="302.4" y1="315.1" x2="305.4" y2="315.1" stroke="#111" stroke-width="0.9"/>
<text x="299.8" y="317.8" font-size="7.5" text-anchor="end">20</text>
<line x1="302.4" y1="289.8" x2="305.4" y2="289.8" stroke="#111" stroke-width="0.9"/>
<text x="299.8" y="292.5" font-size="7.5" text-anchor="end">40</text>
<line x1="302.4" y1="264.5" x2="305.4" y2="264.5" stroke="#111" stroke-width="0.9"/>
<text x="299.8" y="267.2" font-size="7.5" text-anchor="end">60</text>
<line x1="302.4" y1="239.2" x2="305.4" y2="239.2" stroke="#111" stroke-width="0.9"/>
<text x="299.8" y="241.9" font-size="7.5" text-anchor="end">80</text>
<line x1="302.4" y1="213.9" x2="305.4" y2="213.9" stroke="#111" stroke-width="0.9"/>
<text x="299.8" y="216.6" font-size="7.5" text-anchor="end">100</text>
<line x1="305.4" y1="340.4" x2="365.6" y2="340.4" stroke="#111" stroke-width="1.1"/>
<line x1="325.5" y1="340.4" x2="325.5" y2="342.9" stroke="#111" stroke-width="0.9"/>
<line x1="345" y1="340.4" x2="345" y2="342.9" stroke="#111" stroke-width="0.9"/>
<line x1="364.4" y1="340.4" x2="364.4" y2="342.9" stroke="#111" stroke-width="0.9"/>
<line x1="305.4" y1="340.4" x2="305.4" y2="342.9" stroke="#111" stroke-width="1.1"/>
<rect x="310.6" y="336.86" width="4.6" height="3.54" fill="#c4c4c4" />
<line x1="312.9" y1="335.85" x2="312.9" y2="337.87" stroke="#111" stroke-width="0.9"/>
<line x1="311.4" y1="335.85" x2="314.4" y2="335.85" stroke="#111" stroke-width="0.9"/>
<line x1="311.4" y1="337.87" x2="314.4" y2="337.87" stroke="#111" stroke-width="0.9"/>
<rect x="316.3" y="333.32" width="4.6" height="7.08" fill="#3a3a3a" />
<line x1="318.6" y1="330.79" x2="318.6" y2="335.85" stroke="#111" stroke-width="0.9"/>
<line x1="317.1" y1="330.79" x2="320.1" y2="330.79" stroke="#111" stroke-width="0.9"/>
<line x1="317.1" y1="335.85" x2="320.1" y2="335.85" stroke="#111" stroke-width="0.9"/>
<rect x="329.5" y="314.21" width="4.6" height="26.19" fill="#c4c4c4" />
<line x1="331.8" y1="312.32" x2="331.8" y2="316.11" stroke="#111" stroke-width="0.9"/>
<line x1="330.3" y1="312.32" x2="333.3" y2="312.32" stroke="#111" stroke-width="0.9"/>
<line x1="330.3" y1="316.11" x2="333.3" y2="316.11" stroke="#111" stroke-width="0.9"/>
<rect x="335.5" y="264.25" width="4.6" height="76.15" fill="#3a3a3a" />
<line x1="337.8" y1="256.66" x2="337.8" y2="271.84" stroke="#111" stroke-width="0.9"/>
<line x1="336.3" y1="256.66" x2="339.3" y2="256.66" stroke="#111" stroke-width="0.9"/>
<line x1="336.3" y1="271.84" x2="339.3" y2="271.84" stroke="#111" stroke-width="0.9"/>
<circle cx="335.95" cy="252.06" r="1.12" fill="#111"/>
<circle cx="339.65" cy="252.06" r="1.12" fill="#111"/>
<rect x="349.1" y="279.05" width="4.6" height="61.35" fill="#c4c4c4" />
<line x1="351.4" y1="274.62" x2="351.4" y2="283.48" stroke="#111" stroke-width="0.9"/>
<line x1="349.9" y1="274.62" x2="352.9" y2="274.62" stroke="#111" stroke-width="0.9"/>
<line x1="349.9" y1="283.48" x2="352.9" y2="283.48" stroke="#111" stroke-width="0.9"/>
<rect x="354.8" y="237.05" width="4.6" height="103.35" fill="#3a3a3a" />
<line x1="357.1" y1="232.87" x2="357.1" y2="241.22" stroke="#111" stroke-width="0.9"/>
<line x1="355.6" y1="232.87" x2="358.6" y2="232.87" stroke="#111" stroke-width="0.9"/>
<line x1="355.6" y1="241.22" x2="358.6" y2="241.22" stroke="#111" stroke-width="0.9"/>
<circle cx="355.25" cy="228.28" r="1.12" fill="#111"/>
<circle cx="358.95" cy="228.28" r="1.12" fill="#111"/>
<rect x="312.7" y="218.4" width="3.3" height="3.3" fill="#c4c4c4" />
<rect x="312.7" y="230" width="3.3" height="3.3" fill="#3a3a3a" />
<text x="319.1" y="223" font-size="7.4">shNC</text>
<text x="319.1" y="234.7" font-size="7.4">shTP53</text>
<text x="318.9" y="344.5" font-size="8.2" text-anchor="end" transform="rotate(-90 318.9 344.5)">Veh</text>
<text x="338.2" y="344.5" font-size="8.2" text-anchor="end" transform="rotate(-90 338.2 344.5)">4924+P100</text>
<text x="357.3" y="344.5" font-size="8.2" text-anchor="end" transform="rotate(-90 357.3 344.5)">4924+P300</text>
<text x="282.3" y="270.5" font-size="8.5" text-anchor="middle" textLength="47.5" lengthAdjust="spacingAndGlyphs" transform="rotate(-90 282.3 270.5)">% apoptosis</text>
<text x="399" y="206" font-size="7" font-weight="bold" textLength="31.9" lengthAdjust="spacingAndGlyphs">MLN4924</text>
<text x="416.7" y="220.8" font-size="7" font-weight="bold" textLength="14.8" lengthAdjust="spacingAndGlyphs">PXD</text>
<line x1="443.2" y1="203.5" x2="447" y2="203.5" stroke="#111" stroke-width="1.2"/>
<line x1="458" y1="203.5" x2="461.8" y2="203.5" stroke="#111" stroke-width="1.2"/>
<line x1="473.9" y1="203.5" x2="477.7" y2="203.5" stroke="#111" stroke-width="1.2"/>
<line x1="475.8" y1="201.6" x2="475.8" y2="205.4" stroke="#111" stroke-width="1.2"/>
<line x1="489.7" y1="203.5" x2="493.5" y2="203.5" stroke="#111" stroke-width="1.2"/>
<line x1="491.6" y1="201.6" x2="491.6" y2="205.4" stroke="#111" stroke-width="1.2"/>
<line x1="443.2" y1="218.3" x2="447" y2="218.3" stroke="#111" stroke-width="1.2"/>
<line x1="458" y1="218.3" x2="461.8" y2="218.3" stroke="#111" stroke-width="1.2"/>
<line x1="459.9" y1="216.4" x2="459.9" y2="220.2" stroke="#111" stroke-width="1.2"/>
<line x1="473.9" y1="218.3" x2="477.7" y2="218.3" stroke="#111" stroke-width="1.2"/>
<line x1="489.7" y1="218.3" x2="493.5" y2="218.3" stroke="#111" stroke-width="1.2"/>
<line x1="491.6" y1="216.4" x2="491.6" y2="220.2" stroke="#111" stroke-width="1.2"/>
<defs><filter id="blur1" x="-20%" y="-50%" width="140%" height="200%"><feGaussianBlur stdDeviation="0.9 0.6"/></filter><filter id="blur2" x="-20%" y="-50%" width="140%" height="200%"><feGaussianBlur stdDeviation="0.9 0.5"/></filter></defs>
<svg x="436.3" y="224.8" width="61.8" height="11.8" overflow="hidden">
<rect x="0" y="0" width="61.8" height="11.8" fill="#959595" />
<rect x="3.2" y="4.2" width="12" height="3" rx="1.5" fill="#8a8a8a" filter="url(#blur1)"/>
<rect x="18.2" y="4.2" width="11" height="4" rx="2" fill="#686868" filter="url(#blur1)"/>
<rect x="34.2" y="4.65" width="9" height="3.5" rx="1.75" fill="#747474" filter="url(#blur1)"/>
<rect x="47" y="3.75" width="13" height="4.5" rx="2.25" fill="#3c3c3c" filter="url(#blur1)"/>
</svg>
<rect x="436.3" y="224.8" width="61.8" height="11.8" fill="none" stroke="#111" stroke-width="1.1"/>
<svg x="436.3" y="239.1" width="61.8" height="20.7" overflow="hidden">
<rect x="0" y="0" width="61.8" height="20.7" fill="#d2d2d2" />
<rect x="18.7" y="3.4" width="10" height="1.8" rx="0.9" fill="#b0b0b0" filter="url(#blur1)"/>
<rect x="33.7" y="3.1" width="10" height="2" rx="1" fill="#4a4a4a" filter="url(#blur1)"/>
<rect x="47" y="2.9" width="13" height="2.8" rx="1.4" fill="#1e1e1e" filter="url(#blur1)"/>
<rect x="34.2" y="8.35" width="9" height="1.5" rx="0.75" fill="#b8b8b8" filter="url(#blur1)"/>
<rect x="48" y="8.35" width="11" height="1.5" rx="0.75" fill="#c0c0c0" filter="url(#blur1)"/>
<rect x="33.7" y="11.7" width="10" height="2" rx="1" fill="#7a7a7a" filter="url(#blur1)"/>
<rect x="48" y="11.8" width="11" height="1.8" rx="0.9" fill="#b0b0b0" filter="url(#blur1)"/>
<rect x="19.2" y="16.15" width="9" height="1.5" rx="0.75" fill="#c0c0c0" filter="url(#blur1)"/>
<rect x="33.7" y="15.9" width="10" height="2" rx="1" fill="#707070" filter="url(#blur1)"/>
<rect x="47" y="15.65" width="13" height="2.5" rx="1.25" fill="#404040" filter="url(#blur1)"/>
</svg>
<rect x="436.3" y="239.1" width="61.8" height="20.7" fill="none" stroke="#111" stroke-width="1.1"/>
<svg x="436.3" y="262.5" width="61.8" height="10.8" overflow="hidden">
<rect x="0" y="0" width="61.8" height="10.8" fill="#d0d0d0" />
<rect x="5.2" y="5.75" width="8" height="1.5" rx="0.75" fill="#c4c4c4" filter="url(#blur1)"/>
<rect x="18.7" y="5.15" width="10" height="2.5" rx="1.25" fill="#6c6c6c" filter="url(#blur1)"/>
<rect x="33.2" y="4.6" width="11" height="3" rx="1.5" fill="#3c3c3c" filter="url(#blur1)"/>
<rect x="46.75" y="3.25" width="13.5" height="5.5" rx="2.75" fill="#1c1c1c" filter="url(#blur1)"/>
</svg>
<rect x="436.3" y="262.5" width="61.8" height="10.8" fill="none" stroke="#111" stroke-width="1.1"/>
<svg x="436.3" y="276.5" width="61.8" height="15.2" overflow="hidden">
<rect x="0" y="0" width="61.8" height="15.2" fill="#c8c8c8" />
<rect x="3.45" y="2.9" width="11.5" height="3" rx="1.5" fill="#2c2c2c" filter="url(#blur1)"/>
<rect x="17.95" y="2.9" width="11.5" height="3" rx="1.5" fill="#2c2c2c" filter="url(#blur1)"/>
<rect x="32.95" y="2.9" width="11.5" height="3" rx="1.5" fill="#2c2c2c" filter="url(#blur1)"/>
<rect x="47.75" y="2.9" width="11.5" height="3" rx="1.5" fill="#2c2c2c" filter="url(#blur1)"/>
<rect x="18.7" y="10.05" width="10" height="1.5" rx="0.75" fill="#bababa" filter="url(#blur1)"/>
<rect x="33.7" y="9.8" width="10" height="2" rx="1" fill="#a0a0a0" filter="url(#blur1)"/>
<rect x="47.5" y="9.55" width="12" height="2.5" rx="1.25" fill="#4c4c4c" filter="url(#blur1)"/>
</svg>
<rect x="436.3" y="276.5" width="61.8" height="15.2" fill="none" stroke="#111" stroke-width="1.1"/>
<svg x="436.3" y="294.9" width="61.8" height="9.5" overflow="hidden">
<rect x="0" y="0" width="61.8" height="9.5" fill="#b8b8b8" />
<rect x="2.7" y="3.8" width="57" height="3" rx="1.5" fill="#2a2a2a" filter="url(#blur1)"/>
<rect x="3.2" y="3.3" width="12" height="4" rx="2" fill="#1c1c1c" filter="url(#blur1)"/>
<rect x="17.7" y="3.4" width="12" height="4" rx="2" fill="#1c1c1c" filter="url(#blur1)"/>
<rect x="32.7" y="3.3" width="12" height="4" rx="2" fill="#1c1c1c" filter="url(#blur1)"/>
<rect x="47.5" y="3.4" width="12" height="4" rx="2" fill="#1c1c1c" filter="url(#blur1)"/>
</svg>
<rect x="436.3" y="294.9" width="61.8" height="9.5" fill="none" stroke="#111" stroke-width="1.1"/>
<path d="M431.3 228.6 L435.5 231 L431.3 233.4 Z" fill="#111"/>
<path d="M431.3 240.8 L435.5 243.2 L431.3 245.6 Z" fill="#111"/>
<path d="M431.3 253.9 L435.5 256.3 L431.3 258.7 Z" fill="#111"/>
<path d="M431.3 266.4 L435.5 268.8 L431.3 271.2 Z" fill="#111"/>
<path d="M431.3 279.1 L435.5 281.5 L431.3 283.9 Z" fill="#111"/>
<path d="M431.3 285.7 L435.5 288.1 L431.3 290.5 Z" fill="#111"/>
<path d="M431.3 297.6 L435.5 300 L431.3 302.4 Z" fill="#111"/>
<text x="393.8" y="233.6" font-size="7.2" font-weight="bold" textLength="31.2" lengthAdjust="spacingAndGlyphs">c-Casp 9</text>
<text x="394.3" y="253.4" font-size="7.2" font-weight="bold" textLength="31.2" lengthAdjust="spacingAndGlyphs">c-Casp 3</text>
<text x="394.3" y="271.6" font-size="7.2" font-weight="bold" textLength="31.2" lengthAdjust="spacingAndGlyphs">c-Casp 7</text>
<text x="405.1" y="284.6" font-size="7.2" font-weight="bold" textLength="19.9" lengthAdjust="spacingAndGlyphs">PARP</text>
<text x="415.7" y="292.4" font-size="7.2" font-weight="bold" textLength="9.3" lengthAdjust="spacingAndGlyphs">CF</text>
<text x="408.2" y="303" font-size="7.2" font-weight="bold" textLength="16.8" lengthAdjust="spacingAndGlyphs">&#946;-act</text>
<line x1="401.5" y1="309.8" x2="508.5" y2="309.8" stroke="#111" stroke-width="0.9" stroke-dasharray="2.7 1.5"/>
<line x1="401" y1="303" x2="401" y2="369" stroke="#111" stroke-width="1"/>
<line x1="401" y1="368.5" x2="510.6" y2="368.5" stroke="#111" stroke-width="1"/>
<line x1="396.5" y1="356.68" x2="401" y2="356.68" stroke="#111" stroke-width="0.9"/>
<text x="393.8" y="359.38" font-size="7.8" text-anchor="end">0.2</text>
<line x1="422" y1="368.5" x2="422" y2="371.5" stroke="#111" stroke-width="0.9"/>
<text x="422" y="381.4" font-size="7.8" text-anchor="middle">0.2</text>
<line x1="396.5" y1="344.86" x2="401" y2="344.86" stroke="#111" stroke-width="0.9"/>
<text x="393.8" y="347.56" font-size="7.8" text-anchor="end">0.4</text>
<line x1="443.4" y1="368.5" x2="443.4" y2="371.5" stroke="#111" stroke-width="0.9"/>
<text x="443.4" y="381.4" font-size="7.8" text-anchor="middle">0.4</text>
<line x1="396.5" y1="333.04" x2="401" y2="333.04" stroke="#111" stroke-width="0.9"/>
<text x="393.8" y="335.74" font-size="7.8" text-anchor="end">0.6</text>
<line x1="464.8" y1="368.5" x2="464.8" y2="371.5" stroke="#111" stroke-width="0.9"/>
<text x="464.8" y="381.4" font-size="7.8" text-anchor="middle">0.6</text>
<line x1="396.5" y1="321.22" x2="401" y2="321.22" stroke="#111" stroke-width="0.9"/>
<text x="393.8" y="323.92" font-size="7.8" text-anchor="end">0.8</text>
<line x1="486.2" y1="368.5" x2="486.2" y2="371.5" stroke="#111" stroke-width="0.9"/>
<text x="486.2" y="381.4" font-size="7.8" text-anchor="middle">0.8</text>
<line x1="396.5" y1="309.4" x2="401" y2="309.4" stroke="#111" stroke-width="0.9"/>
<text x="393.8" y="312.1" font-size="7.8" text-anchor="end">1.0</text>
<line x1="507.6" y1="368.5" x2="507.6" y2="371.5" stroke="#111" stroke-width="0.9"/>
<text x="507.6" y="381.4" font-size="7.8" text-anchor="middle">1.0</text>
<text x="391.8" y="381.4" font-size="7.8" text-anchor="middle">0</text>
<text x="376.6" y="339.4" font-size="8.2" text-anchor="middle" transform="rotate(-90 376.6 339.4)">CI</text>
<text x="419.4" y="321.1" font-size="7.2" textLength="75.9" lengthAdjust="spacingAndGlyphs">MLN4924 : PXD = 1 : 1</text>
<text x="423.8" y="394.8" font-size="10" textLength="59.9" lengthAdjust="spacingAndGlyphs">Fractional effect</text>
<path d="M401.3 303.5 C401.42 304.82 401.77 308.98 402 311.4 C402.23 313.82 402.37 315.9 402.7 318 C403.03 320.1 403.45 322.22 404 324 C404.55 325.78 405.1 327.23 406 328.7 C406.9 330.17 408.17 331.57 409.4 332.8 C410.63 334.03 411.85 335 413.4 336.1 C414.95 337.2 416.7 338.4 418.7 339.4 C420.7 340.4 422.95 341.32 425.4 342.1 C427.85 342.88 430.5 343.43 433.4 344.1 C436.3 344.77 440.03 345.53 442.8 346.1 C445.57 346.67 446.72 346.95 450 347.5 C453.28 348.05 458.33 348.77 462.5 349.4 C466.67 350.02 470.83 350.52 475 351.25 C479.17 351.98 484.17 353.02 487.5 353.75 C490.83 354.48 492.92 354.98 495 355.6 C497.08 356.23 498.23 356.67 500 357.5 C501.77 358.33 504.67 360.08 505.6 360.6" fill="none" stroke="#111" stroke-width="1.6" stroke-linecap="round"/>
<circle cx="427.3" cy="344.5" r="1.4" fill="#111"/>
<circle cx="434.5" cy="343.6" r="1.4" fill="#111"/>
<circle cx="447.9" cy="346.1" r="1.4" fill="#111"/>
<circle cx="457.5" cy="346.9" r="1.4" fill="#111"/>
<circle cx="471" cy="350.2" r="1.4" fill="#111"/>
<circle cx="488.4" cy="355.2" r="1.4" fill="#111"/>
</svg>
</body></html>
